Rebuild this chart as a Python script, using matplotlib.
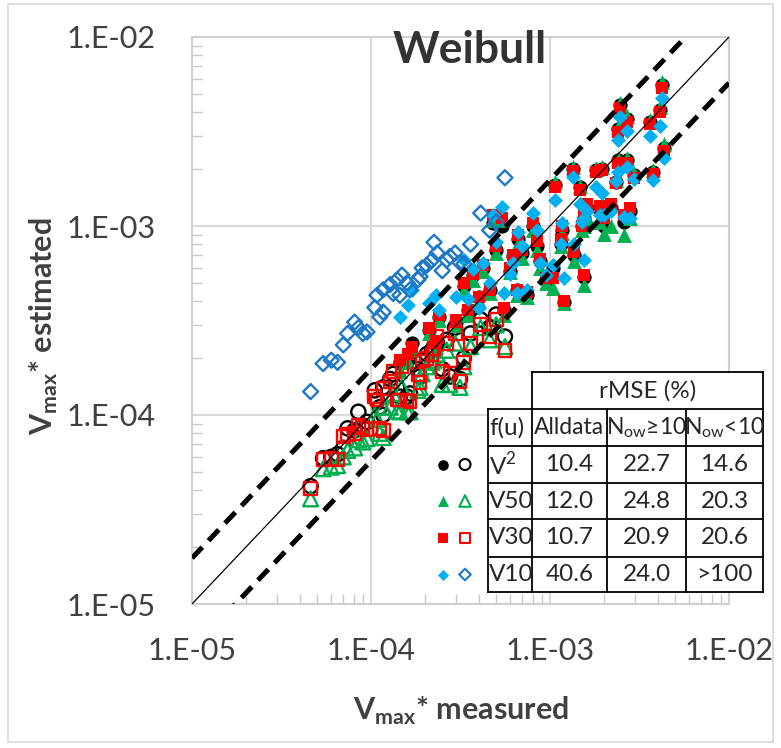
import numpy as np
import matplotlib
matplotlib.use("Agg")
import matplotlib.pyplot as plt
from matplotlib.ticker import LogLocator, FuncFormatter, NullFormatter
from matplotlib.patches import Rectangle

plt.rcParams['font.family'] = ['Lato', 'DejaVu Sans']
plt.rcParams['mathtext.fontset'] = 'custom'
plt.rcParams['mathtext.rm'] = 'Lato'
plt.rcParams['mathtext.bf'] = 'Lato:bold'

# Cases with N_ow >= 10 (filled markers): measured, then estimated per f(u)
x_fill = [4.2e-3, 4.1e-3, 2.46e-3, 2.7e-3, 2.4e-3, 3.6e-3, 4.35e-3, 3.75e-3, 2.95e-3, 2.7e-3,
          2.4e-3, 2.35e-3, 1.8e-3, 1.95e-3, 1.34e-3, 1.07e-3, 1.47e-3, 1.6e-3, 1.9e-3, 2.2e-3,
          2.6e-3, 2.0e-3, 1.55e-3, 2.8e-3, 1.2e-3, 1.55e-3, 1.04e-3, 1.37e-3, 1.5e-3, 4.8e-4,
          5.4e-4, 8.0e-4, 6.6e-4, 8.5e-4, 1.16e-3, 1.15e-3, 7.0e-4, 6.2e-4, 8.8e-4, 6.0e-4,
          4.2e-4, 3.7e-4, 4.6e-4, 6.5e-4, 7.4e-4, 9.5e-4, 4.0e-4, 2.4e-4, 3.0e-4, 2.1e-4,
          1.7e-4, 1.6e-4, 2.3e-4, 1.45e-4, 5.5e-4, 3.5e-4, 5.0e-4, 3.3e-4]
v2_fill = [5.6e-3, 4.1e-3, 4.36e-3, 3.68e-3, 3.26e-3, 3.55e-3, 2.59e-3, 1.93e-3, 1.86e-3, 2.23e-3,
           2.23e-3, 1.71e-3, 1.98e-3, 2.0e-3, 2.0e-3, 1.65e-3, 1.6e-3, 1.25e-3, 1.2e-3, 1.25e-3,
           1.05e-3, 1.0e-3, 1.1e-3, 1.2e-3, 3.96e-4, 5.4e-4, 6.0e-4, 7.0e-4, 1.0e-3, 1.04e-3,
           1.0e-3, 1.0e-3, 8.5e-4, 7.8e-4, 9.5e-4, 8.0e-4, 7.2e-4, 6.9e-4, 6.5e-4, 5.8e-4,
           6.0e-4, 5.5e-4, 4.6e-4, 4.6e-4, 4.3e-4, 5.2e-4, 4.2e-4, 3.3e-4, 3.1e-4, 2.8e-4,
           2.4e-4, 2.0e-4, 2.4e-4, 1.9e-4, 3.6e-4, 3.6e-4, 7.5e-4, 4.8e-4]
v50_fill = [5.8e-3, 4.25e-3, 4.5e-3, 3.8e-3, 3.35e-3, 3.65e-3, 2.7e-3, 1.98e-3, 1.9e-3, 2.28e-3,
            2.28e-3, 1.75e-3, 2.02e-3, 2.05e-3, 2.05e-3, 1.7e-3, 1.62e-3, 1.1e-3, 1.05e-3, 1.0e-3,
            9.0e-4, 9.1e-4, 1.0e-3, 1.1e-3, 3.9e-4, 4.9e-4, 4.7e-4, 6.5e-4, 9.5e-4, 1.07e-3,
            1.07e-3, 9.5e-4, 8.0e-4, 7.5e-4, 9.2e-4, 7.8e-4, 6.8e-4, 6.8e-4, 6.0e-4, 5.7e-4,
            5.8e-4, 5.2e-4, 4.4e-4, 4.3e-4, 4.2e-4, 5.0e-4, 4.0e-4, 3.2e-4, 3.0e-4, 2.7e-4,
            2.2e-4, 1.9e-4, 2.3e-4, 1.7e-4, 3.4e-4, 3.4e-4, 7.2e-4, 4.6e-4]
v30_fill = [5.4e-3, 4.0e-3, 4.2e-3, 3.55e-3, 3.15e-3, 3.45e-3, 2.5e-3, 1.88e-3, 1.8e-3, 2.15e-3,
            2.15e-3, 1.68e-3, 1.93e-3, 1.97e-3, 1.95e-3, 1.6e-3, 1.55e-3, 1.3e-3, 1.28e-3, 1.3e-3,
            1.15e-3, 1.1e-3, 1.2e-3, 1.25e-3, 4.0e-4, 5.5e-4, 5.3e-4, 7.3e-4, 1.0e-3, 1.15e-3,
            1.1e-3, 1.04e-3, 9.0e-4, 8.3e-4, 1.0e-3, 8.5e-4, 7.5e-4, 7.0e-4, 6.7e-4, 6.0e-4,
            6.2e-4, 5.6e-4, 4.6e-4, 4.6e-4, 4.5e-4, 5.3e-4, 4.2e-4, 3.4e-4, 3.2e-4, 2.9e-4,
            2.3e-4, 2.1e-4, 2.45e-4, 1.95e-4, 3.7e-4, 3.6e-4, 7.8e-4, 5.0e-4]
v10_fill = [4.75e-3, 3.4e-3, 3.77e-3, 3.2e-3, 2.85e-3, 3.0e-3, 2.29e-3, 1.75e-3, 1.78e-3, 2.05e-3,
            1.93e-3, 1.72e-3, 1.6e-3, 1.5e-3, 1.82e-3, 1.37e-3, 1.3e-3, 1.2e-3, 1.15e-3, 1.2e-3,
            1.12e-3, 1.15e-3, 1.1e-3, 1.1e-3, 5.3e-4, 6.6e-4, 6.2e-4, 8.0e-4, 1.05e-3, 1.14e-3,
            1.26e-3, 1.17e-3, 9.3e-4, 9.5e-4, 1.04e-3, 8.0e-4, 7.8e-4, 6.4e-4, 6.4e-4, 5.6e-4,
            6.4e-4, 5.9e-4, 5.0e-4, 4.4e-4, 4.6e-4, 5.5e-4, 3.7e-4, 3.6e-4, 4.2e-4, 3.9e-4,
            4.6e-4, 3.8e-4, 4.3e-4, 3.3e-4, 4.4e-4, 4.1e-4, 8.2e-4, 6.6e-4]

# Cases with N_ow < 10 (open markers)
x_open = [4.6e-5, 5.4e-5, 6.0e-5, 6.5e-5, 7.0e-5, 7.4e-5, 8.1e-5, 8.5e-5, 9.0e-5, 9.5e-5,
          1.05e-4, 1.08e-4, 1.12e-4, 1.17e-4, 1.17e-4, 1.28e-4, 1.33e-4, 1.40e-4, 1.45e-4, 1.49e-4,
          1.59e-4, 1.65e-4, 1.83e-4, 1.88e-4, 1.93e-4, 2.05e-4, 2.19e-4, 2.25e-4, 2.34e-4, 2.5e-4,
          2.65e-4, 2.76e-4, 2.95e-4, 3.14e-4, 3.3e-4, 3.6e-4, 4.1e-4, 4.6e-4, 5.6e-4, 5.0e-4]
v2_open = [4.2e-5, 5.9e-5, 6.0e-5, 6.2e-5, 6.7e-5, 8.5e-5, 8.3e-5, 1.04e-4, 8.8e-5, 9.2e-5,
           1.35e-4, 1.2e-4, 1.1e-4, 1.4e-4, 1.0e-4, 1.55e-4, 1.65e-4, 1.4e-4, 1.25e-4, 1.9e-4,
           1.25e-4, 1.3e-4, 1.75e-4, 1.6e-4, 1.95e-4, 2.1e-4, 2.2e-4, 2.3e-4, 2.4e-4, 1.75e-4,
           2.5e-4, 1.6e-4, 2.9e-4, 1.55e-4, 2.0e-4, 2.7e-4, 3.2e-4, 2.9e-4, 2.6e-4, 3.4e-4]
v50_open = [3.6e-5, 5.2e-5, 5.3e-5, 5.4e-5, 6.0e-5, 6.5e-5, 6.7e-5, 7.4e-5, 7.2e-5, 7.5e-5,
            1.0e-4, 9.5e-5, 8.0e-5, 1.1e-4, 7.6e-5, 1.1e-4, 1.3e-4, 1.05e-4, 1.04e-4, 1.4e-4,
            1.04e-4, 1.04e-4, 1.35e-4, 1.4e-4, 1.65e-4, 1.8e-4, 1.9e-4, 1.95e-4, 2.1e-4, 1.45e-4,
            2.2e-4, 1.45e-4, 2.4e-4, 1.4e-4, 1.8e-4, 2.3e-4, 2.9e-4, 2.5e-4, 2.3e-4, 3.0e-4]
v30_open = [4.1e-5, 5.8e-5, 5.9e-5, 5.8e-5, 7.7e-5, 7.9e-5, 8.0e-5, 8.8e-5, 8.6e-5, 8.4e-5,
            1.25e-4, 1.2e-4, 8.5e-5, 1.38e-4, 8.3e-5, 1.5e-4, 1.7e-4, 1.2e-4, 1.2e-4, 1.8e-4,
            1.2e-4, 1.18e-4, 1.63e-4, 1.48e-4, 1.93e-4, 2.0e-4, 2.1e-4, 2.25e-4, 2.6e-4, 1.7e-4,
            2.4e-4, 1.67e-4, 2.7e-4, 1.5e-4, 1.9e-4, 2.4e-4, 3.0e-4, 2.6e-4, 2.2e-4, 3.2e-4]
v10_open = [1.33e-4, 1.87e-4, 1.95e-4, 1.9e-4, 2.35e-4, 2.7e-4, 3.1e-4, 2.9e-4, 2.7e-4, 2.75e-4,
            3.7e-4, 4.3e-4, 3.3e-4, 4.6e-4, 3.5e-4, 4.9e-4, 4.4e-4, 5.2e-4, 4.3e-4, 5.5e-4,
            5.0e-4, 4.6e-4, 5.2e-4, 5.4e-4, 6.0e-4, 6.2e-4, 6.6e-4, 8.2e-4, 7.2e-4, 5.8e-4,
            6.6e-4, 6.9e-4, 7.2e-4, 6.4e-4, 6.3e-4, 8.0e-4, 1.17e-3, 9.5e-4, 1.8e-3, 1.05e-3]

# rMSE table
row_labels = ['V$^{2}$', 'V50', 'V30', 'V10']
col_labels = ['Alldata', 'N$_{\\mathrm{ow}}$\u226510', 'N$_{\\mathrm{ow}}$<10']
rmse = [['10.4', '22.7', '14.6'],
        ['12.0', '24.8', '20.3'],
        ['10.7', '20.9', '20.6'],
        ['40.6', '24.0', '>100']]

GREEN = '#00B050'
RED = '#FF0000'
CYAN = '#00B0F0'
BLUE = '#1E78C8'

fig = plt.figure(figsize=(7.81, 7.48), dpi=100)
ax = fig.add_axes([192 / 781, 144 / 748, 537 / 781, 567 / 748])
ax.set_xscale('log')
ax.set_yscale('log')
ax.set_xlim(1e-5, 1e-2)
ax.set_ylim(1e-5, 1e-2)

# series styles: (marker, size, color)
styles = [('o', 105, 'black'), ('^', 115, GREEN), ('s', 85, RED), ('D', 58, CYAN)]
fills = [v2_fill, v50_fill, v30_fill, v10_fill]
opens = [v2_open, v50_open, v30_open, v10_open]
for (m, s, c), yf, yo in zip(styles, fills, opens):
    ax.scatter(x_fill, yf, marker=m, s=s, color=c, linewidths=0, zorder=3)
    ec = BLUE if m == 'D' else c
    ax.scatter(x_open, yo, marker=m, s=s, facecolors='none', edgecolors=ec,
               linewidths=1.7, zorder=3)

xs = np.array([1e-5, 1e-2])
ax.plot(xs, xs, color='black', lw=0.9, zorder=4)
ax.plot(xs, xs * 1.75, color='black', lw=3.6, dashes=(3, 1.8), zorder=4)
ax.plot(xs, xs / 1.75, color='black', lw=3.6, dashes=(3, 1.8), zorder=4)

fmt = FuncFormatter(lambda v, p: "1.E-%02d" % int(round(-np.log10(v))))
for axis in (ax.xaxis, ax.yaxis):
    axis.set_major_locator(LogLocator(base=10, numticks=10))
    axis.set_minor_locator(LogLocator(base=10, subs=np.arange(2, 10), numticks=10))
    axis.set_major_formatter(fmt)
    axis.set_minor_formatter(NullFormatter())
ax.tick_params(which='major', length=0, labelsize=22, labelcolor='#404040')
ax.tick_params(axis='x', which='major', pad=24)
ax.tick_params(axis='y', which='major', pad=26)
ax.tick_params(which='minor', direction='in', length=7, width=1, color='#C8C8C8')
ax.grid(True, which='major', color='#D9D9D9', lw=1.5)
for sp in ax.spines.values():
    sp.set_color('#D0D0D0')
    sp.set_linewidth(1.5)

ax.set_xlabel('V$_{\\mathbf{max}}$* measured', fontsize=22, fontweight='bold', color='#404040')
ax.set_ylabel('V$_{\\mathbf{max}}$* estimated', fontsize=22, fontweight='bold', color='#404040')
ax.xaxis.set_label_coords(0.5, -0.16)
ax.yaxis.set_label_coords(-0.245, 0.49)

# overlay in pixel units for title, table, legend and frame
ov = fig.add_axes([0, 0, 1, 1], zorder=5)
ov.set_xlim(0, 781)
ov.set_ylim(748, 0)
ov.axis('off')
ov.patch.set_alpha(0)

ov.add_patch(Rectangle((8, 4), 765, 738, fill=False, ec='#D9D9D9', lw=1.2))
ov.text(470, 50, 'Weibull', ha='center', va='center', fontsize=32,
        fontweight='bold', color='#333333')

col_edges = [488, 532, 607, 686, 763]
row_edges = [372, 409, 446, 483, 519, 557, 592]
ov.add_patch(Rectangle((col_edges[1], row_edges[0]), col_edges[-1] - col_edges[1],
                       row_edges[1] - row_edges[0], fc='white', ec='none'))
ov.add_patch(Rectangle((col_edges[0], row_edges[1]), col_edges[-1] - col_edges[0],
                       row_edges[-1] - row_edges[1], fc='white', ec='none'))
lk = dict(color='black', lw=1.3)
ov.plot([col_edges[1], col_edges[-1]], [row_edges[0]] * 2, **lk)
for yy in row_edges[1:]:
    ov.plot([col_edges[0], col_edges[-1]], [yy, yy], **lk)
for xx in (col_edges[1], col_edges[-1]):
    ov.plot([xx, xx], [row_edges[0], row_edges[-1]], **lk)
for xx in (col_edges[0], col_edges[2], col_edges[3]):
    ov.plot([xx, xx], [row_edges[1], row_edges[-1]], **lk)

tk = dict(fontsize=17.5, color='#262626', va='center')
ov.text((col_edges[1] + col_edges[-1]) / 2, (row_edges[0] + row_edges[1]) / 2,
        'rMSE (%)', ha='center', **tk)
ov.text(col_edges[0] + 1, (row_edges[1] + row_edges[2]) / 2, 'f(u)', ha='left', **tk)
for j, lab in enumerate(col_labels):
    ov.text((col_edges[j + 1] + col_edges[j + 2]) / 2, (row_edges[1] + row_edges[2]) / 2,
            lab, ha='center', **dict(tk, fontsize=16.5))
for i, lab in enumerate(row_labels):
    yc = (row_edges[i + 2] + row_edges[i + 3]) / 2
    ov.text(col_edges[0] + 1, yc, lab, ha='left', **tk)
    for j in range(3):
        ov.text((col_edges[j + 1] + col_edges[j + 2]) / 2, yc, rmse[i][j], ha='center', **tk)
    m, s, c = styles[i]
    ov.scatter([443], [yc], marker=m, s=s * 0.55, color=c, linewidths=0)
    ov.scatter([465], [yc], marker=m, s=s * 0.6, facecolors='none',
               edgecolors=BLUE if m == 'D' else c, linewidths=1.5)

fig.savefig('out.png', dpi=100)
